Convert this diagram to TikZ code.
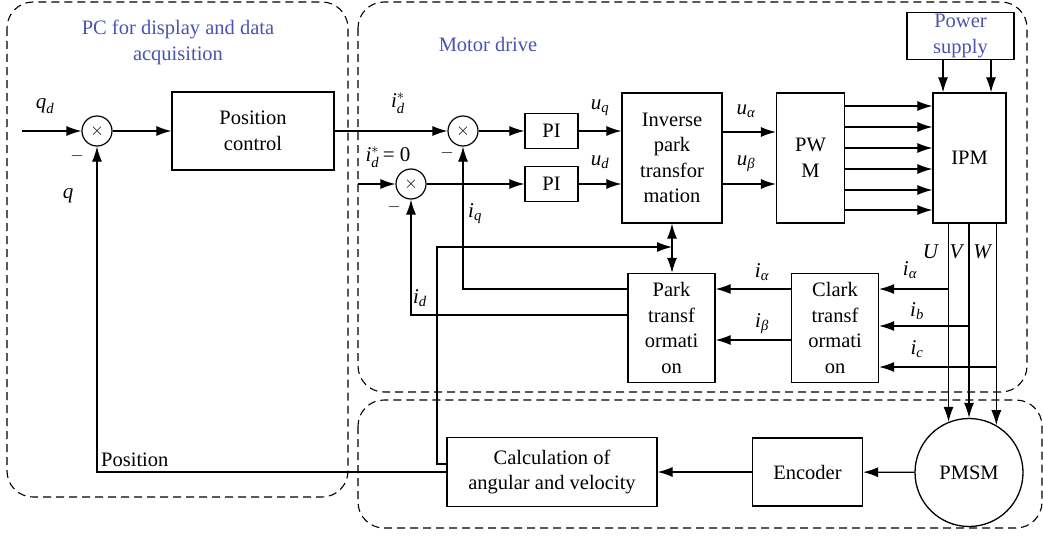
\documentclass[tikz,border=0pt]{standalone}
\usepackage{amsmath}
\usepackage{fontspec}
\setmainfont{Liberation Serif}
\usetikzlibrary{arrows.meta}
\definecolor{titleblue}{RGB}{72,84,176}
\newcommand{\vi}[1]{\textit{#1}}
\tikzset{
  blk/.style={draw, line width=1.3pt, align=center, inner sep=0pt,
    font=\fontsize{20.5}{25.5}\selectfont},
  sumn/.style={circle, draw, line width=1.2pt, minimum size=30, inner sep=0pt,
    font=\fontsize{17}{17}\selectfont},
  arr/.style={line width=1.2pt, -{Latex[length=15pt,width=10pt]}},
  group/.style={draw, line width=1.1pt, dash pattern=on 8pt off 5pt, rounded corners=26pt},
  lbl/.style={inner sep=0pt, font=\fontsize{21}{21}\selectfont},
  ttl/.style={inner sep=0pt, align=center, text=titleblue, font=\fontsize{20.5}{26}\selectfont},
  mn/.style={inner sep=0pt, font=\fontsize{16}{16}\selectfont}
}
\begin{document}
\begin{tikzpicture}[x=1pt,y=-1pt]
\useasboundingbox (0,0) rectangle (1043,535);

% dashed groups
\draw[group] (7,2) rectangle (348,497);
\draw[group] (358,2) rectangle (1027,392);
\draw[group] (358,400) rectangle (1042,528);
\node[ttl] (tpc) at (178,42) {PC for display and data\\acquisition};
\node[ttl] (tmd) at (488,44) {Motor drive};

% blocks
\node[sumn] (s1) at (97,131) {$\times$};
\node[blk, minimum width=162, minimum height=78] (pc) at (253,131) {Position\\control};
\node[sumn] (s2) at (463,131) {$\times$};
\node[sumn] (s3) at (411,184) {$\times$};
\node[blk, minimum width=53, minimum height=35] (pi1) at (551.5,131) {PI};
\node[blk, minimum width=53, minimum height=35] (pi2) at (551.5,184) {PI};
\node[blk, minimum width=100, minimum height=130] (inv) at (672,158) {Inverse\\park\\transfor\\mation};
\node[blk, minimum width=68, minimum height=130] (pwm) at (810.5,158) {PW\\M};
\node[blk, minimum width=73, minimum height=130] (ipm) at (969.5,158) {IPM};
\node[blk, minimum width=107, minimum height=47, text=titleblue] (ps) at (960.5,36) {Power\\supply};
\node[blk, minimum width=87, minimum height=109] (park) at (671.5,328) {Park\\transf\\ormati\\on};
\node[blk, minimum width=87, minimum height=109] (clark) at (835,328) {Clark\\transf\\ormati\\on};
\node[blk, minimum width=210, minimum height=69] (calc) at (552,472) {Calculation of\\angular and velocity};
\node[blk, minimum width=110, minimum height=68] (enc) at (807.5,472) {Encoder};
\node[blk, circle, minimum size=108] (pmsm) at (969,472.5) {PMSM};

% position loop
\coordinate (qin) at (22,131);
\draw[arr] (qin) -- (s1);
\draw[arr] (s1) -- (pc);
\draw[arr] (pc) -- (s2);
\draw[arr] (calc.west) -| (s1);

% current loops
\coordinate (s3in) at (358,184);
\draw[arr] (s3in) -- (s3);
\draw[arr] (s2) -- (pi1);
\draw[arr] (s3) -- (pi2);
\draw[arr] (pi1.east) -- (pi1.east -| inv.west);
\draw[arr] (pi2.east) -- (pi2.east -| inv.west);

% inverse park -> PWM -> IPM
\coordinate (ua) at (722,132);
\coordinate (ub) at (722,184);
\draw[arr] (ua -| inv.east) -- (ua -| pwm.west);
\draw[arr] (ub -| inv.east) -- (ub -| pwm.west);
\foreach \y [count=\k] in {106,127,148,169,190,210} {
  \coordinate (g\k) at (844,\y);
  \draw[arr] (g\k -| pwm.east) -- (g\k -| ipm.west);
}
\coordinate (p1) at (943,60);
\coordinate (p2) at (991,60);
\draw[arr] (p1 |- ps.south) -- (p1 |- ipm.north);
\draw[arr] (p2 |- ps.south) -- (p2 |- ipm.north);

% phase lines to the motor
\draw[arr] (pmsm.112.9 |- ipm.south) -- (pmsm.112.9);
\draw[arr] (pmsm.90 |- ipm.south) -- (pmsm.90);
\draw[arr] (pmsm.60 |- ipm.south) -- (pmsm.60);

% current taps into Clark
\coordinate (tU) at (948,289);
\coordinate (tV) at (969,326);
\coordinate (tW) at (996,367);
\draw[arr] (tU) -- (tU -| clark.east);
\draw[arr] (tV) -- (tV -| clark.east);
\draw[arr] (tW) -- (tW -| clark.east);

% Clark -> Park
\coordinate (ca) at (760,289);
\coordinate (cb) at (760,340);
\draw[arr] (ca -| clark.west) -- (ca -| park.east);
\draw[arr] (cb -| clark.west) -- (cb -| park.east);

% Park feedback to the summing junctions
\coordinate (iqc) at (463,289);
\coordinate (idc) at (411,315);
\draw[arr] (iqc -| park.west) -- (iqc) -- (s2);
\draw[arr] (idc -| park.west) -- (idc) -- (s3);

% angle link between the transforms
\draw[line width=1.2pt, {Latex[length=15pt,width=10pt]}-{Latex[length=15pt,width=10pt]}]
  (inv.south) -- (inv.south |- park.north);
\coordinate (fbb) at (437,464);
\coordinate (fbt) at (437,247);
\draw[arr] (fbb -| calc.west) -- (fbb) -- (fbt) -- (fbt -| inv.south);

% motor -> encoder -> calculation
\draw[arr] (pmsm) -- (enc);
\draw[arr] (enc) -- (calc);

% labels
\node[lbl] (lqd) at (45,106) {$\vi{q}_{\vi{d}}$};
\node[mn] (m1) at (77,156) {$-$};
\node[lbl] (lq) at (68,196) {\vi{q}};
\node[lbl] (lids) at (398,103) {$\vi{i}_{\vi{d}}^{*}$};
\node[lbl] (lid0) at (388,157) {$\vi{i}_{\vi{d}}^{*}\,\text{= 0}$};
\node[mn] (m2) at (447,153) {$-$};
\node[mn] (m3) at (394,207) {$-$};
\node[lbl] (luq) at (600,108) {$\vi{u}_{\vi{q}}$};
\node[lbl] (lud) at (600,162) {$\vi{u}_{\vi{d}}$};
\node[lbl] (lua) at (746,111) {$\vi{u}_{\vi{α}}$};
\node[lbl] (lub) at (746,164) {$\vi{u}_{\vi{β}}$};
\node[lbl] (liq) at (475,214) {$\vi{i}_{\vi{q}}$};
\node[lbl] (lid) at (420,298) {$\vi{i}_{\vi{d}}$};
\node[lbl] (lpa) at (762,272) {$\vi{i}_{\vi{α}}$};
\node[lbl] (lpb) at (762,324) {$\vi{i}_{\vi{β}}$};
\node[lbl] (lca) at (910,270) {$\vi{i}_{\vi{α}}$};
\node[lbl] (lcb) at (917,311) {$\vi{i}_{\vi{b}}$};
\node[lbl] (lcc) at (917,349) {$\vi{i}_{\vi{c}}$};
\node[lbl] (lU) at (931,252) {\vi{U}};
\node[lbl] (lV) at (957,252) {\vi{V}};
\node[lbl] (lW) at (983,252) {\vi{W}};
\node[lbl, anchor=west, font=\fontsize{20.5}{20.5}\selectfont] (lpos) at (101,460) {Position};
\end{tikzpicture}
\end{document}
